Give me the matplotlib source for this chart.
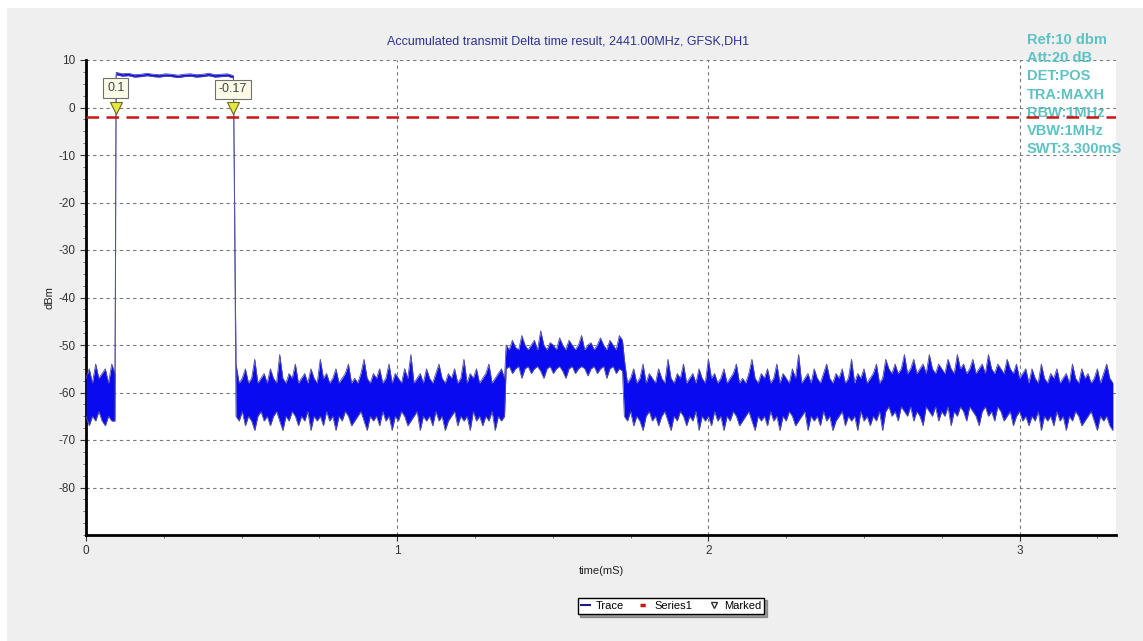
import numpy as np
import matplotlib
matplotlib.use("Agg")
import matplotlib.pyplot as plt
from matplotlib.lines import Line2D
from matplotlib.patches import Rectangle
from matplotlib.ticker import MultipleLocator

plt.rcParams["font.family"] = ["Liberation Sans", "DejaVu Sans"]
plt.rcParams["axes.unicode_minus"] = False

PANEL = "#efefef"
TRACE = "#0a0af0"
TRACE_EDGE = "#4f4f9c"
TITLE_C = "#2e3192"
INFO_C = "#5cc2c4"
RED = "#cc1515"
GRIDC = "#7a7a7a"

# ---- trace data (time in mS, level in dBm) ----
# pre-burst noise floor
segA_t = (0.000, 0.093)
segA_hi = [-57, -55, -58, -54, -57, -56, -55, -58, -54, -56]
segA_lo = [-65, -67, -65, -66, -64, -66, -67, -65, -66, -66]

# the DH1 burst
burst_t = (0.097, 0.474)
burst_hi = [7.4, 7.1, 7.2, 6.9, 7.0, 7.2, 7.0, 6.9, 7.1, 7.0,
            6.8, 7.0, 7.1, 6.9, 7.0, 7.2, 6.9, 7.0, 7.1, 6.7]
burst_lo = [6.9, 6.6, 6.7, 6.4, 6.5, 6.7, 6.5, 6.4, 6.6, 6.5,
            6.3, 6.5, 6.6, 6.4, 6.5, 6.7, 6.4, 6.5, 6.6, 6.2]

# noise after the burst
segC_t = (0.482, 1.345)
segC_hi = [-54, -58, -57, -55, -58, -57, -53, -58, -57, -56,
           -58, -55, -57, -58, -52, -57, -58, -56, -57, -54,
           -58, -57, -56, -58, -55, -57, -58, -53, -57, -56,
           -58, -57, -55, -58, -57, -56, -54, -58, -57, -58,
           -56, -53, -57, -58, -56, -57, -55, -58, -57, -54,
           -58, -56, -57, -58, -55, -57, -52, -58, -57, -56,
           -58, -55, -57, -58, -56, -54, -57, -58, -56, -57,
           -55, -58, -57, -53, -58, -56, -57, -55, -58, -57,
           -56, -54, -58, -57, -56, -55, -57]
segC_lo = [-65, -66, -64, -67, -65, -66, -68, -65, -64, -66,
           -65, -67, -65, -64, -66, -68, -65, -66, -64, -65,
           -67, -65, -66, -64, -68, -65, -66, -65, -67, -64,
           -66, -65, -68, -65, -66, -64, -65, -67, -66, -65,
           -64, -66, -68, -65, -66, -65, -67, -64, -66, -65,
           -68, -65, -66, -64, -65, -67, -66, -65, -64, -68,
           -65, -66, -65, -67, -64, -66, -65, -68, -66, -65,
           -64, -67, -65, -66, -65, -68, -64, -66, -65, -67,
           -65, -66, -64, -68, -65, -66, -65]

# raised floor
segD_t = (1.350, 1.724)
segD_hi = [-50, -51, -49, -50.5, -51, -48, -50, -51, -50, -49,
           -51, -47, -50, -51, -49.5, -50, -51, -48.5, -50, -51,
           -49, -50, -51, -50, -48, -51, -50, -49.5, -51, -50,
           -48.5, -50, -51, -49, -50, -51, -48, -49]
segD_lo = [-55, -54.5, -56, -55, -54.5, -57, -55, -54.5, -56, -55,
           -54.5, -55.5, -57, -55, -54.5, -56, -55, -54.5, -55.5, -57,
           -55, -54.5, -56, -55, -54.5, -55, -56.5, -55, -54.5, -56,
           -55, -54.5, -57, -55, -54.5, -56, -55, -55.5]

# trailing noise
segE_t = (1.730, 3.300)
segE_hi = [-53, -58, -57, -55, -58, -57, -54, -58, -56, -57,
           -58, -55, -57, -58, -53, -57, -58, -56, -57, -54,
           -58, -57, -56, -58, -55, -57, -58, -53, -57, -56,
           -58, -57, -55, -58, -57, -56, -54, -58, -57, -58,
           -56, -53, -57, -58, -56, -57, -55, -58, -57, -54,
           -58, -56, -57, -58, -55, -57, -52, -58, -57, -56,
           -58, -55, -57, -58, -56, -54, -57, -58, -56, -57,
           -55, -58, -57, -53, -58, -56, -57, -55, -58, -57,
           -56, -54, -58, -57, -53, -55, -56, -54, -56, -55,
           -52, -56, -55, -53, -56, -55, -54, -56, -52, -55,
           -56, -54, -55, -56, -53, -55, -56, -52, -55, -54,
           -56, -55, -53, -56, -55, -54, -56, -52, -55, -56,
           -54, -55, -56, -53, -55, -56, -54, -57, -56, -55,
           -58, -55, -57, -58, -54, -57, -58, -56, -57, -55,
           -58, -57, -56, -58, -54, -57, -58, -55, -57, -56,
           -58, -57, -55, -58, -56, -54, -57, -58]
segE_lo = [-65, -66, -64, -67, -65, -66, -68, -65, -64, -66,
           -65, -67, -65, -64, -66, -68, -65, -66, -64, -65,
           -67, -65, -66, -64, -68, -65, -66, -65, -67, -64,
           -66, -65, -68, -65, -66, -64, -65, -67, -66, -65,
           -64, -66, -68, -65, -66, -65, -67, -64, -66, -65,
           -68, -65, -66, -64, -65, -67, -66, -65, -64, -68,
           -65, -66, -65, -67, -64, -66, -65, -68, -66, -65,
           -64, -67, -65, -66, -65, -68, -64, -66, -65, -67,
           -65, -66, -64, -68, -64, -63, -65, -64, -66, -63,
           -64, -65, -63, -66, -64, -65, -67, -63, -64, -65,
           -63, -66, -64, -65, -63, -67, -64, -65, -63, -64,
           -66, -63, -64, -65, -67, -64, -63, -65, -64, -66,
           -63, -64, -66, -65, -64, -67, -65, -64, -66, -65,
           -67, -65, -66, -64, -68, -65, -66, -65, -67, -64,
           -66, -65, -68, -65, -66, -64, -65, -67, -66, -65,
           -64, -66, -68, -65, -66, -65, -67, -68]

series1_level = -2.0
marker_t = [0.0955, 0.4727]
marker_level = [0.0, 0.0]
marker_labels = ["0.1", "-0.17"]
marker_label_level = [4.1, 3.8]

info_lines = ["Ref:10 dbm", "Att:20 dB", "DET:POS", "TRA:MAXH",
              "RBW:1MHz", "VBW:1MHz", "SWT:3.300mS"]

segments = [(segA_t, segA_hi, segA_lo), (burst_t, burst_hi, burst_lo),
            (segC_t, segC_hi, segC_lo), (segD_t, segD_hi, segD_lo),
            (segE_t, segE_hi, segE_lo)]
t_all, hi_all, lo_all = [], [], []
for (t0, t1), hi, lo in segments:
    t_all.append(np.linspace(t0, t1, len(hi)))
    hi_all.append(hi)
    lo_all.append(lo)
t_all = np.concatenate(t_all)
hi_all = np.concatenate(hi_all).astype(float)
lo_all = np.concatenate(lo_all).astype(float)

# ---- figure ----
W, H = 1143, 641
fig = plt.figure(figsize=(W / 100, H / 100), dpi=100, facecolor="white")
fig.patches.append(Rectangle((7 / W, 0), 1, 1 - 8 / H, transform=fig.transFigure,
                             facecolor=PANEL, edgecolor="none", zorder=-10))
ax = fig.add_axes([86 / W, 106 / H, (1116 - 86) / W, (535 - 60) / H])
ax.set_facecolor("white")

ax.fill_between(t_all, lo_all, hi_all, color=TRACE, lw=0, zorder=3)
ax.plot(t_all, hi_all, color=TRACE_EDGE, lw=0.6, zorder=4)
ax.plot(t_all, lo_all, color=TRACE_EDGE, lw=0.6, zorder=4)

ax.axhline(series1_level, color=RED, lw=1.8, dashes=(5, 3), zorder=5)

ax.plot(marker_t, marker_level, "v", ms=8, mfc="#e6e640", mec="#6b6b20", mew=0.8, zorder=6)
for x, y, s in zip(marker_t, marker_label_level, marker_labels):
    ax.text(x, y, s, ha="center", va="center", fontsize=9, color="#444444", zorder=7,
            bbox=dict(boxstyle="square,pad=0.3", facecolor="#fbfbe8",
                      edgecolor="#707070", lw=0.8))

ax.set_xlim(0, 3.31)
ax.set_ylim(-90, 10)
ax.set_xticks([0, 1, 2, 3])
ax.set_yticks(np.arange(-80, 11, 10))
ax.xaxis.set_minor_locator(MultipleLocator(0.25))
ax.yaxis.set_minor_locator(MultipleLocator(2.5))
ax.grid(True, which="major", color=GRIDC, lw=0.8, dashes=(3, 3))
ax.set_axisbelow(True)
ax.tick_params(which="major", length=4, width=0.8, labelsize=8.5, colors="#333333")
ax.tick_params(which="minor", length=2, width=0.6, colors="#555555")
for s in ["top", "right"]:
    ax.spines[s].set_visible(False)
for s in ["left", "bottom"]:
    ax.spines[s].set_linewidth(2)
    ax.spines[s].set_color("black")

ax.set_xlabel("time(mS)", fontsize=8, color="#222222", labelpad=6)
ax.set_ylabel("dBm", fontsize=8, color="#222222", labelpad=3)

fig.text(568 / W, 1 - 42 / H, "Accumulated transmit Delta time result, 2441.00MHz, GFSK,DH1",
         ha="center", va="center", fontsize=9, color=TITLE_C)

# readout block sits under the Series1 line, as on the analyser screen
ax.text(1027 / W, 1 - 33 / H, "\n".join(info_lines), transform=fig.transFigure,
        ha="left", va="top", fontsize=10.5, fontweight="bold", color=INFO_C,
        linespacing=1.38, zorder=4.5, clip_on=False)

handles = [Line2D([], [], color="#1a1a80", lw=1.5),
           Line2D([], [], color=RED, lw=2.5, dashes=(1.5, 10)),
           Line2D([], [], ls="none", marker="v", ms=5, mfc="white", mec="#333333")]
leg = fig.legend(handles, ["Trace", "Series1", "Marked"], loc="center",
                 bbox_to_anchor=(671 / W, 35 / H), ncol=3, fontsize=8,
                 frameon=True, fancybox=False, shadow=True, handlelength=0.8,
                 handletextpad=0.5, columnspacing=1.5, borderpad=0.3)
leg.get_frame().set_edgecolor("black")
leg.get_frame().set_linewidth(1.0)

fig.savefig("out.png", dpi=100, facecolor=fig.get_facecolor())
